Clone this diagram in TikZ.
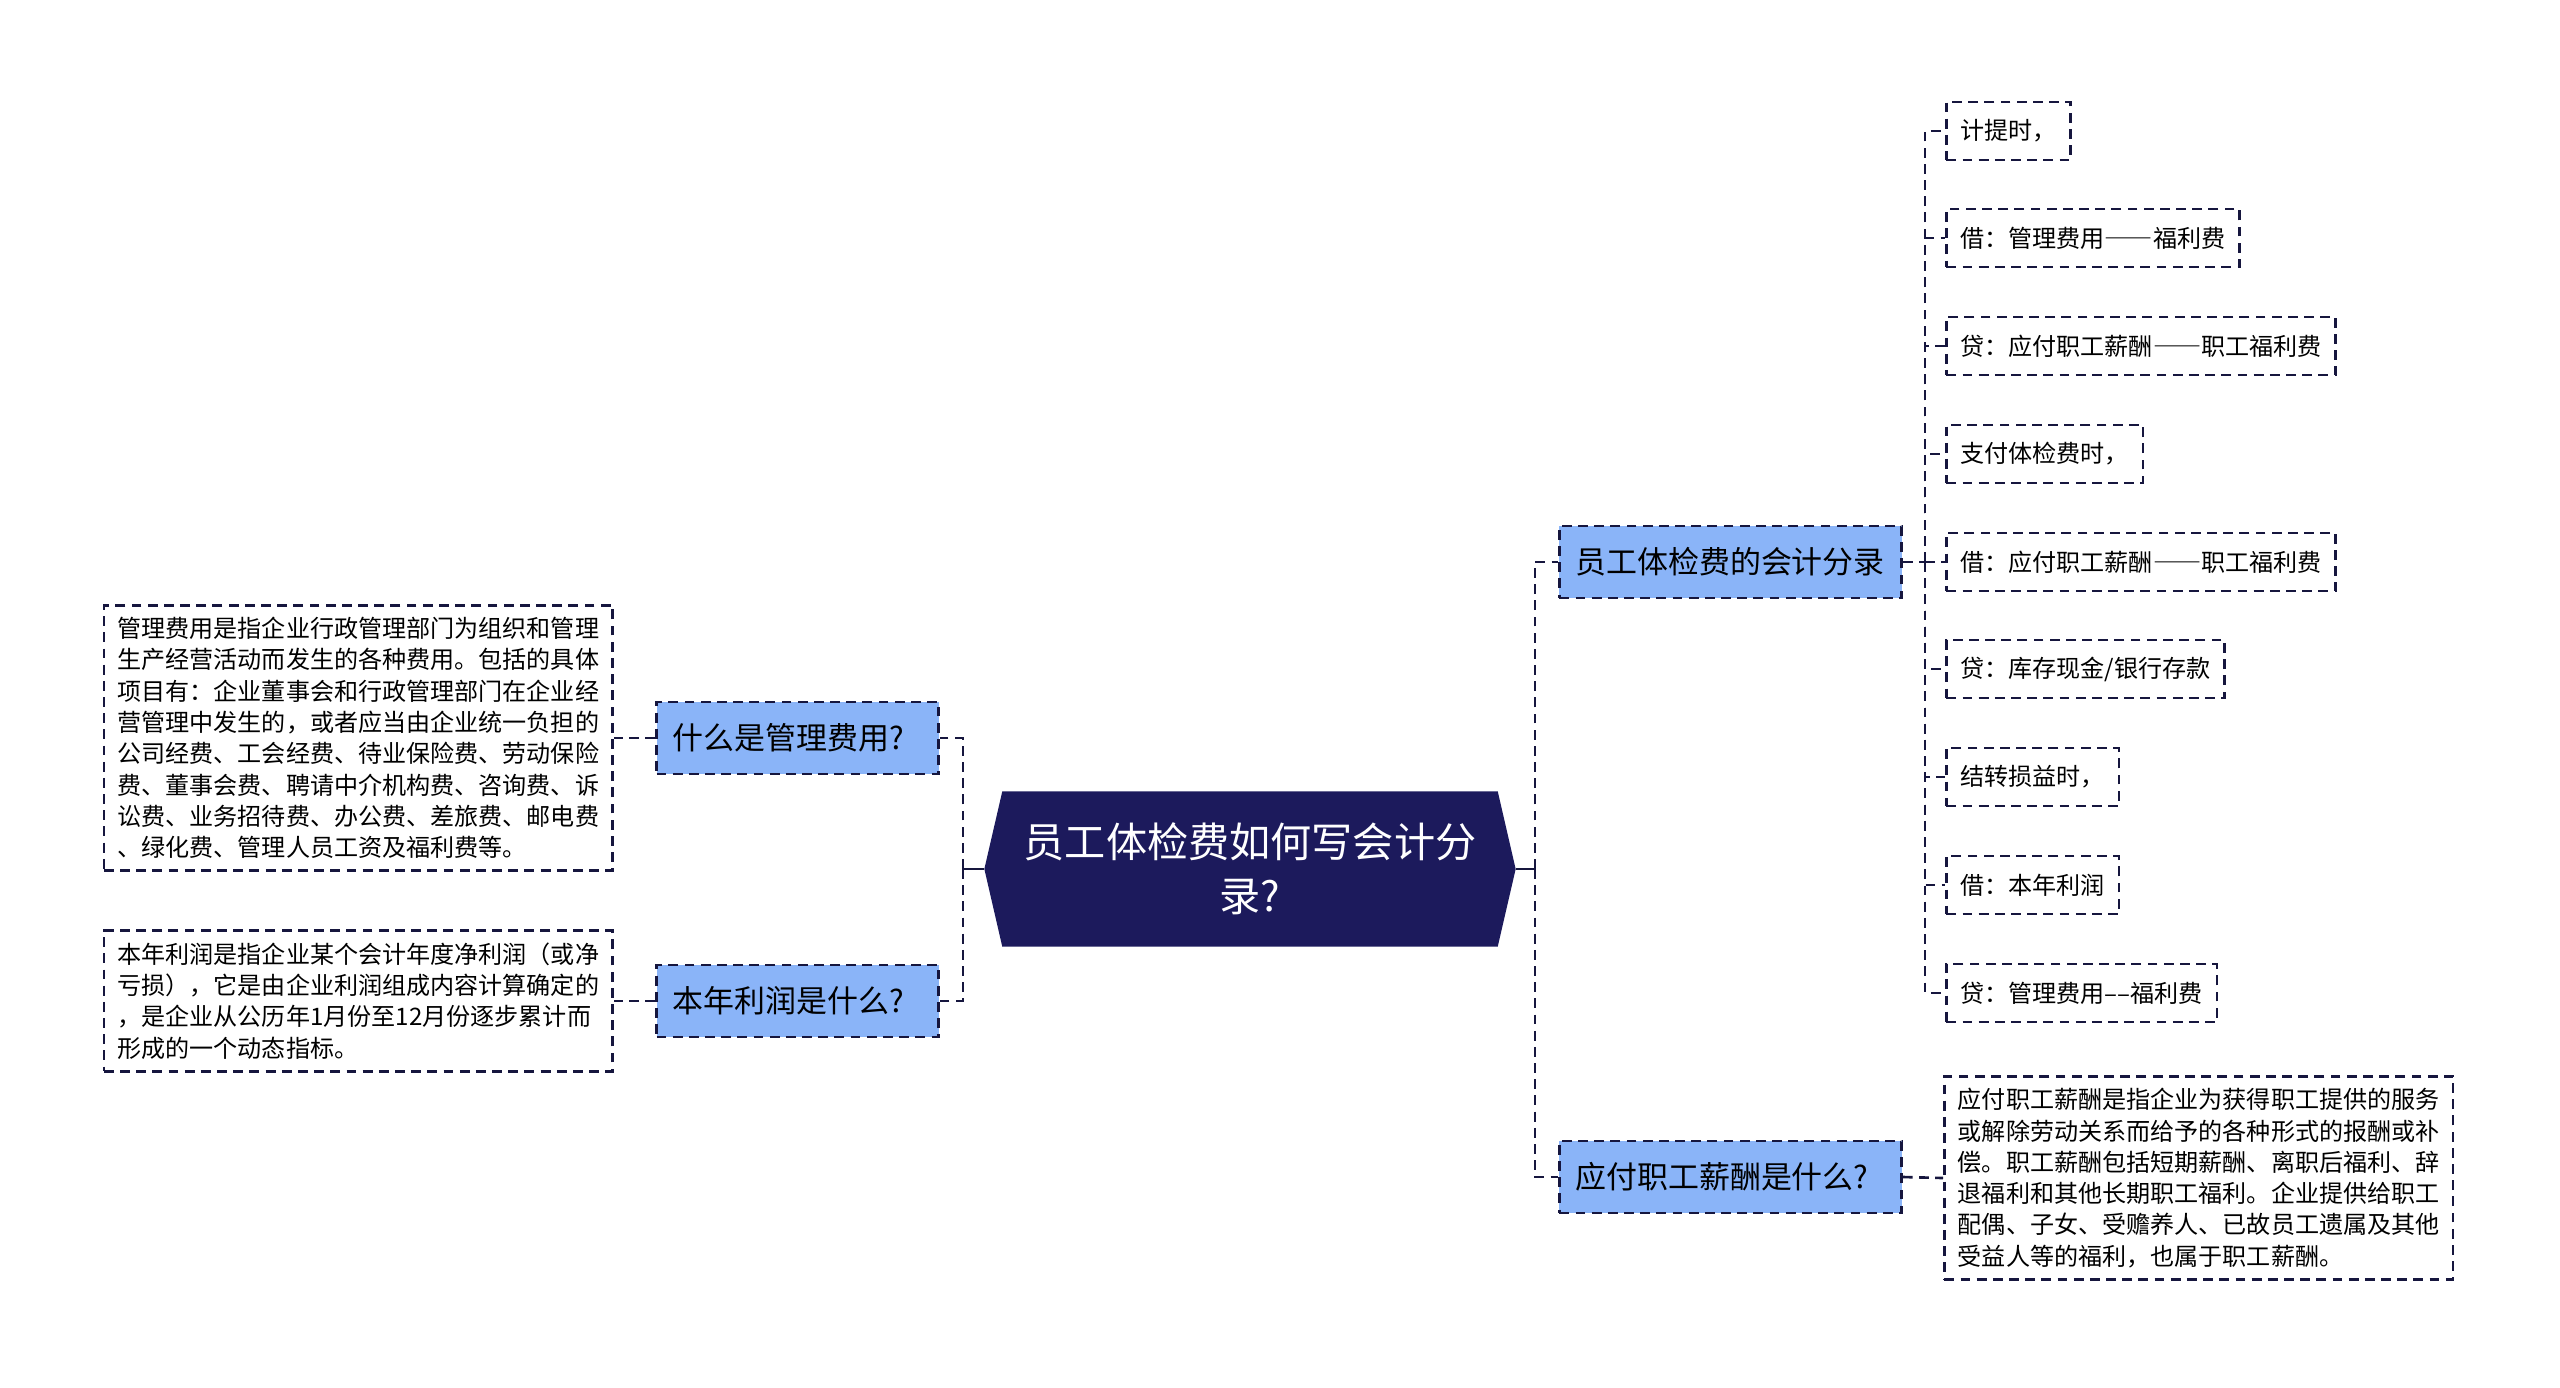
\documentclass[tikz,border=0pt]{standalone}
\usepackage{fontspec}
\setmainfont{Noto Sans CJK SC}
\newfontfamily\fullwidth[RawFeature=+fwid]{Noto Sans CJK SC}
\usetikzlibrary{shapes.symbols}

\definecolor{navy}{HTML}{1C1A5C}
\definecolor{linecol}{HTML}{16163E}
\definecolor{topicblue}{HTML}{8AB4F8}

\newcommand{\longdash}{{\fullwidth ——}}

\tikzset{
  root/.style={signal, signal to=west and east, signal pointer angle=154,
    fill=navy, text=white, align=center, inner sep=0pt,
    minimum width=5.31cm, minimum height=1.55cm,
    font=\fontsize{11.7}{15.4}\selectfont},
  topic/.style={draw=linecol, fill=topicblue, dashbox, align=left,
    inner xsep=0.16cm, inner ysep=0pt, minimum height=0.72cm,
    font=\fontsize{8.8}{10.5}\selectfont},
  note/.style={draw=linecol, dashbox, align=left,
    inner xsep=0.135cm, inner ysep=0.12cm,
    font=\fontsize{6.85}{8.9}\selectfont},
  leaf/.style={draw=linecol, dashbox, anchor=west,
    inner xsep=0.14cm, inner ysep=0pt, minimum height=0.58cm,
    font=\fontsize{6.85}{8.9}\selectfont},
  dashbox/.style={line width=0.75pt, dash pattern=on 2.8pt off 1.8pt},
  link/.style={draw=linecol, line width=0.75pt, dash pattern=on 2.8pt off 1.8pt},
  stub/.style={draw=linecol, line width=0.75pt}
}

\begin{document}
\begin{tikzpicture}[x=0.01cm, y=-0.01cm]
  \useasboundingbox (0,0) rectangle (2560,1387);

  % centre
  \node[root] (root) at (1250,869) {员工体检费如何写会计分\\录?};

  % left side
  \node[topic, anchor=east, text width=2.50cm] (mgmt) at (940,738) {什么是管理费用?};
  \node[topic, anchor=east, text width=2.50cm] (profit) at (940,1001) {本年利润是什么?};
  \node[note, anchor=east] (mgmtnote) at (614,738)
    {管理费用是指企业行政管理部门为组织和管理\\
     生产经营活动而发生的各种费用。包括的具体\\
     项目有：企业董事会和行政管理部门在企业经\\
     营管理中发生的，或者应当由企业统一负担的\\
     公司经费、工会经费、待业保险费、劳动保险\\
     费、董事会费、聘请中介机构费、咨询费、诉\\
     讼费、业务招待费、办公费、差旅费、邮电费\\
     、绿化费、管理人员工资及福利费等。};
  \node[note, anchor=east] (profitnote) at (614,1001)
    {本年利润是指企业某个会计年度净利润（或净\\
     亏损），它是由企业利润组成内容计算确定的\\
     ，是企业从公历年1月份至12月份逐步累计而\\
     形成的一个动态指标。};

  % right side
  \node[topic, anchor=west, text width=3.10cm] (entry) at (1558,562) {员工体检费的会计分录};
  \node[topic, anchor=west, text width=3.10cm] (payroll) at (1558,1177) {应付职工薪酬是什么?};
  \node[note, anchor=west] (payrollnote) at (1943,1178)
    {应付职工薪酬是指企业为获得职工提供的服务\\
     或解除劳动关系而给予的各种形式的报酬或补\\
     偿。职工薪酬包括短期薪酬、离职后福利、辞\\
     退福利和其他长期职工福利。企业提供给职工\\
     配偶、子女、受赡养人、已故员工遗属及其他\\
     受益人等的福利，也属于职工薪酬。};

  % journal entries
  \node[leaf] (accrue) at (1945,131) {计提时，};
  \node[leaf] (drexp) at (1945,238) {借：管理费用\longdash 福利费};
  \node[leaf] (crwage) at (1945,346) {贷：应付职工薪酬\longdash 职工福利费};
  \node[leaf] (pay) at (1945,454) {支付体检费时，};
  \node[leaf] (drwage) at (1945,562) {借：应付职工薪酬\longdash 职工福利费};
  \node[leaf] (crcash) at (1945,669) {贷：库存现金/银行存款};
  \node[leaf] (close) at (1945,777) {结转损益时，};
  \node[leaf] (drprofit) at (1945,885) {借：本年利润};
  \node[leaf] (crexp) at (1945,993) {贷：管理费用––福利费};

  \coordinate (lbus) at (963,869);
  \coordinate (rbus) at (1535,869);
  \coordinate (ebus) at (1925,562);

  \draw[stub] (root.west) -- (lbus);
  \draw[stub] (root.east) -- (rbus);
  \draw[link] (lbus) |- (mgmt.east);
  \draw[link] (lbus) |- (profit.east);
  \draw[link] (rbus) |- (entry.west);
  \draw[link] (rbus) |- (payroll.west);
  \draw[link] (mgmt.west) -- (mgmtnote.east);
  \draw[link] (profit.west) -- (profitnote.east);
  \draw[link] (payroll.east) -- (payrollnote.west);
  \draw[link] (entry.east) -- (ebus);
  \draw[link] (ebus) |- (accrue.west);
  \draw[link] (ebus) |- (drexp.west);
  \draw[link] (ebus) |- (crwage.west);
  \draw[link] (ebus) |- (pay.west);
  \draw[link] (ebus) |- (drwage.west);
  \draw[link] (ebus) |- (crcash.west);
  \draw[link] (ebus) |- (close.west);
  \draw[link] (ebus) |- (drprofit.west);
  \draw[link] (ebus) |- (crexp.west);
\end{tikzpicture}
\end{document}
